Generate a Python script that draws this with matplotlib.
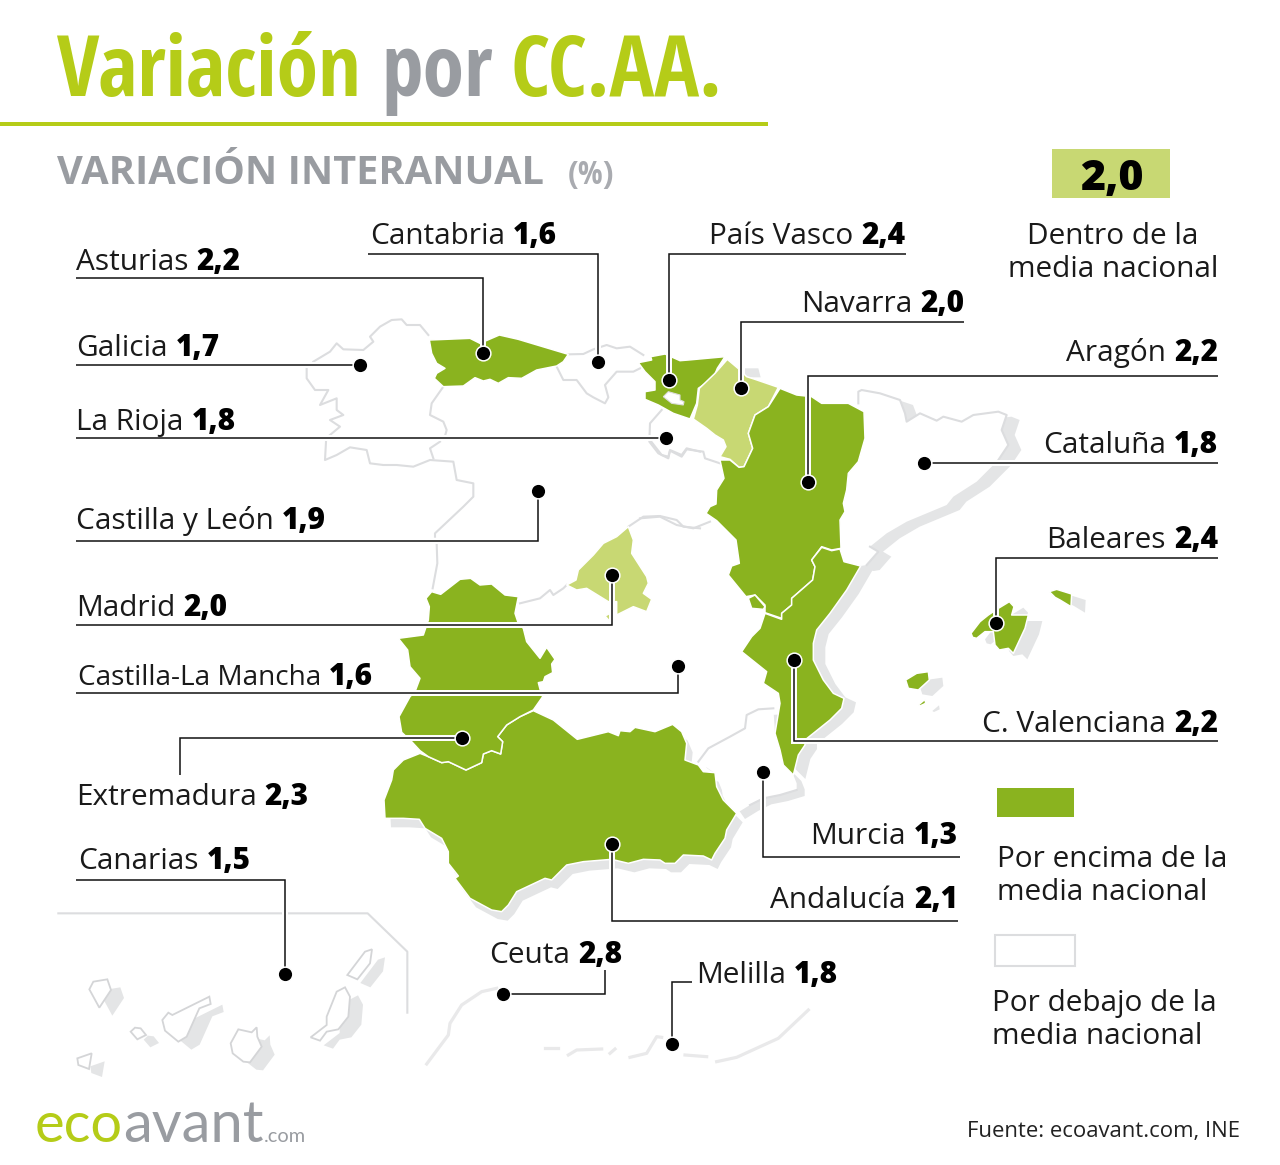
import matplotlib
matplotlib.use("Agg")
import matplotlib.pyplot as plt
from matplotlib.patches import Polygon, Rectangle
from matplotlib import font_manager as fm

# ---------- data ----------
regions = ["Asturias", "Cantabria", "País Vasco", "Navarra", "Aragón", "Cataluña", "Galicia", "La Rioja",
           "Castilla y León", "Madrid", "Castilla-La Mancha", "Extremadura", "Canarias", "Baleares",
           "C. Valenciana", "Murcia", "Andalucía", "Ceuta", "Melilla"]
values = [2.2, 1.6, 2.4, 2.0, 2.2, 1.8, 1.7, 1.8, 1.9, 2.0, 1.6, 2.3, 1.5, 2.4, 2.2, 1.3, 2.1, 2.8, 1.8]
national = 2.0
val = dict(zip(regions, values))

GREEN, LIGHT, TITLE, GREY, EDGE, SHADOW = "#8ab31f", "#c8d873", "#b5cc18", "#999ca1", "#dcdddf", "#e4e5e6"

names = {f.name for f in fm.fontManager.ttflist}
COND = next((n for n in ["Open Sans Condensed", "Liberation Sans Narrow", "Roboto Condensed", "Open Sans"] if n in names))
plt.rcParams["font.family"] = ["Open Sans", "DejaVu Sans"]

fig = plt.figure(figsize=(12.8, 11.65), dpi=100)
ax = fig.add_axes([0, 0, 1, 1])
ax.set_xlim(0, 1280); ax.set_ylim(1165, 0); ax.axis("off")
rend = fig.canvas.get_renderer()


def z(ox, oy, pts):
    return [(ox + x / 3, oy + y / 3) for x, y in pts]


def px(s):
    return s * 0.72


# ---------- geometry (outline tracing) ----------
Z1 = (300, 310); Z2 = (640, 350); Z3 = (370, 570); Z4 = (50, 900); Z5 = (420, 960); Z6 = (630, 340); Z7 = (960, 580)
asturias = z(*Z1, [(388,90),(510,85),(540,100),(598,75),(655,88),(805,133),(790,155),(770,168),(710,180),(665,205),(625,203),(595,220),(570,208),(550,213),(525,203),(490,228),(430,230),(403,205),(410,190),(435,175),(410,160),(395,130)])
pvasco = z(*Z6, [(25,68),(65,60),(62,50),(105,42),(150,62),(175,60),(285,50),(262,85),(250,115),(205,145),(200,190),(180,237),(130,220),(85,195),(45,178),(45,155),(75,150),(75,125),(45,95)])
trevino = z(*Z6, [(100,170),(115,155),(150,165),(150,180),(162,185),(160,195),(125,190)])
navarra = z(*Z2, [(262,28),(225,70),(178,115),(172,165),(160,207),(200,235),(225,255),(250,270),(258,290),(240,320),(270,328),(297,352),(312,350),(338,295),(325,250),(345,195),(385,170),(415,112),(345,88),(320,80),(300,60)])
navarra_shadow = z(*Z6, [(345,85),(385,85),(392,112),(345,112)])
aragon = z(*Z2, [(420,115),(470,135),(515,140),(545,160),(625,160),(672,185),(675,265),(655,335),(625,370),(620,420),(610,460),(615,485),(600,510),(603,595),(575,600),(545,590),(515,630),(525,650),(518,690),(455,745),(455,765),(425,790),(425,805),(375,788),(375,765),(345,735),(318,740),(265,675),(275,648),(298,640),(288,570),(230,512),(198,490),(210,470),(228,462),(230,420),(252,385),(240,330),(270,330),(297,352),(312,350),(338,295),(325,250),(345,195),(385,170)])
ademuz = z(*Z2, [(325,745),(345,735),(375,770),(370,778),(335,775)])
valencia = z(*Z2, [(375,790),(425,808),(425,790),(455,765),(455,745),(518,690),(525,650),(515,630),(545,592),(575,602),(600,597),(612,635),(662,648),(620,720),(570,790),(530,840),(520,880),(520,930),(550,990),(580,1030),(612,1045),(605,1075),(570,1110),(495,1170),(495,1185),(475,1215),(460,1275),(430,1245),(420,1200),(405,1150),(420,1060),(415,1030),(370,1000),(380,965),(305,905),(335,860),(360,835)])
mallorca = z(*Z7, [(33,160),(60,125),(85,105),(115,85),(148,65),(162,80),(155,105),(205,105),(195,145),(160,220),(145,205),(118,210),(105,195),(100,155),(75,155),(50,175),(38,172)])
menorca = z(*Z7, [(268,35),(290,28),(335,42),(333,80),(300,60),(285,52)])
ibiza = z(*Z2, [(797,990),(830,970),(865,965),(868,990),(835,1020),(805,1015)])
formentera = z(*Z2, [(835,1065),(855,1048),(857,1060),(840,1068)])
cataluna = z(*Z2, [(655,125),(665,120),(720,130),(780,150),(795,190),(800,215),(840,190),(890,212),(910,200),(965,215),(1000,195),(1075,185),(1100,195),(1085,240),(1105,285),(1075,330),(1010,395),(940,440),(920,465),(800,515),(740,550),(690,590),(715,605),(680,645),(662,648),(612,635),(600,597),(603,510),(615,485),(610,460),(620,420),(625,370),(655,335),(675,265),(672,185),(655,160)])
murcia = z(*Z2, [(175,1235),(205,1195),(270,1160),(315,1135),(320,1095),(355,1078),(400,1075),(405,1150),(420,1200),(430,1245),(460,1275),(470,1300),(470,1320),(420,1335),(370,1345),(330,1365),(291,1389),(250,1330),(225,1270)])
andalucia = z(*Z3, [(42,690),(65,630),(70,600),(100,570),(150,550),(175,560),(215,578),(235,575),(288,600),(335,578),(340,552),(365,542),(392,552),(398,515),(383,500),(410,465),(450,440),(490,422),(550,450),(622,508),(715,485),(745,497),(750,482),(780,485),(795,472),(855,485),(908,463),(935,485),(950,520),(945,570),(985,585),(1000,605),(1035,608),(1040,650),(1060,690),(1100,730),(1070,780),(1065,805),(1035,850),(1025,870),(1000,858),(940,855),(915,880),(885,880),(870,870),(820,868),(775,880),(725,868),(640,875),(590,885),(545,930),(525,925),(440,965),(415,1005),(395,1025),(365,1020),(300,985),(255,925),(265,918),(235,880),(235,845),(215,805),(165,775),(148,748),(100,745),(45,745)])
extremadura = z(*Z3, [(168,85),(185,65),(212,73),(270,28),(302,25),(330,45),(365,42),(405,75),(445,80),(435,130),(445,160),(460,175),(470,215),(510,265),(530,232),(555,268),(545,282),(548,308),(525,320),(520,335),(505,338),(512,365),(518,380),(490,420),(450,440),(410,465),(383,500),(398,515),(392,552),(365,542),(340,552),(335,578),(288,600),(235,575),(215,578),(175,560),(150,542),(125,515),(95,487),(87,440),(120,380),(135,365),(150,325),(120,290),(113,240),(85,205),(160,195),(175,150),(178,110)])
madrid = z(*Z1, [(985,650),(1000,690),(995,730),(1040,800),(1045,820),(1030,850),(1055,868),(1040,905),(1000,890),(950,915),(950,875),(925,875),(860,835),(830,840),(800,825),(828,810),(835,780),(880,735),(910,700),(950,680)])
madrid2 = z(*Z1, [(915,918),(930,910),(930,935)])

islands = [z(*Z4, p) for p in [
    [(118,268),(130,245),(172,238),(183,270),(148,323)],
    [(337,360),(355,338),(367,345),(478,290),(482,312),(448,325),(410,410),(385,425),(345,392)],
    [(242,395),(255,383),(272,385),(288,405),(262,418)],
    [(82,475),(125,460),(117,507),(85,495)],
    [(565,388),(605,397),(620,382),(622,410),(635,440),(600,487),(580,485),(548,460),(542,430)],
    [(782,412),(830,375),(830,350),(860,275),(885,262),(900,290),(895,350),(865,388),(830,395),(810,422)],
    [(892,225),(945,155),(966,148),(960,190),(922,238)],
]]
borders = [z(*Z1, p) for p in [
    [(770,170),(790,210),(830,210),(860,250),(880,262),(915,280),(925,262),(915,225),(950,185),(1000,185),(1020,175)],
    [(805,133),(850,132),(880,118),(920,105),(950,115),(990,110),(1030,135)],
    [(385,75),(360,45),(320,45),(305,28),(275,30),(240,50),(210,80),(220,95),(190,120),(130,118),(110,100),(90,125),(40,155)],
    [(20,175),(20,205),(45,240),(85,240),(60,285),(110,265),(110,300),(130,315),(90,330),(120,350),(90,375)],
    [(78,395),(75,450),(110,435),(150,412),(200,420),(210,460),(250,465),(290,465),(340,470),(390,450),(460,455),(470,510),(520,520),(520,560),(490,590),(405,670),(405,680)],
    [(430,230),(395,280),(390,315),(430,335),(440,360),(435,378)],
    [(420,395),(390,415),(400,445)],
    [(410,700),(412,760),(398,835)],
    [(660,880),(720,865),(750,840),(760,855),(790,835),(800,825)],
    [(985,650),(1030,620),(1080,618),(1130,630),(1150,650),(1200,655)],
    [(1085,300),(1050,340),(1048,395),(1075,430),(1105,445),(1110,420),(1145,435),(1160,415),(1200,425)],
]] + [z(*Z2, p) for p in [
    [(0,505),(60,500),(110,525),(160,535),(210,515)],
    [(30,270),(65,315),(85,320),(90,302),(125,320),(140,298),(190,305),(195,325),(240,340)],
    [(655,160),(655,125),(665,120),(720,130),(780,150),(795,190),(800,215),(840,190),(890,212),(910,200),(965,215),(1000,195),(1075,185),(1100,195),(1085,240),(1105,285),(1075,330)],
    [(690,590),(715,605),(680,645)],
    [(175,1235),(205,1195),(270,1160),(315,1135),(320,1095),(355,1078),(400,1075)],
    [(470,1320),(420,1335),(370,1345),(330,1365)],
]] + [z(*Z4, [(25,40),(953,40),(1072,155),(1072,338)])]
africa = [z(*Z5, p) for p in [
    [(20,312),(85,225),(90,190),(125,135),(185,95),(230,85)],
    [(375,265),(415,265)], [(445,285),(470,270),(545,267)], [(570,280),(585,267)],
    [(630,292),(680,280),(710,230),(725,232)], [(795,285),(860,290)],
    [(890,305),(950,292),(1075,235),(1165,150)],
]]


def colour(name):
    v = val[name]
    return GREEN if v > national else LIGHT if v == national else "white"


def shift(pts, dx, dy):
    return [(x + dx, y + dy) for x, y in pts]


# shadows
for pts, d in [(cataluna, (13, 5)), (valencia, (12, 4)), (murcia, (8, 6)), (andalucia, (6, 9)),
               (mallorca, (14, 6)), (menorca, (14, 6)), (ibiza, (14, 6)), (formentera, (14, 6)), (navarra_shadow, (0, 0))]:
    ax.add_patch(Polygon(shift(pts, *d), closed=True, fc=SHADOW, ec="none", zorder=1))
for pts in islands:
    ax.add_patch(Polygon(shift(pts, 13, 8), closed=True, fc=SHADOW, ec="none", zorder=1))
    ax.add_patch(Polygon(pts, closed=True, fc="white", ec="#d4d5d7", lw=1.3, zorder=2))
# land cover
for pts in [cataluna, murcia]:
    ax.add_patch(Polygon(pts, closed=True, fc="white", ec="none", zorder=2))
for p in borders:
    ax.plot(*zip(*p), color=EDGE, lw=1.5, zorder=3, solid_joinstyle="round")
for p in africa:
    ax.plot(*zip(*p), color="#e9e9ea", lw=2.3, zorder=3)

# coloured regions
for name, polys in [("Asturias", [asturias]), ("País Vasco", [pvasco]), ("Navarra", [navarra]), ("Aragón", [aragon, ademuz]),
                    ("C. Valenciana", [valencia]), ("Baleares", [mallorca, menorca, ibiza, formentera]),
                    ("Andalucía", [andalucia]), ("Extremadura", [extremadura]), ("Madrid", [madrid, madrid2])]:
    for pts in polys:
        ax.add_patch(Polygon(pts, closed=True, fc=colour(name), ec="white", lw=1.1, zorder=4, joinstyle="round"))
ax.add_patch(Polygon(trevino, closed=True, fc="white", ec="#dddddd", lw=0.8, zorder=5))

# ---------- leaders ----------
leaders = {
    "Asturias": [(76,278),(483,278),(483,353)], "Cantabria": [(368,254),(598,254),(598,362)],
    "País Vasco": [(906,254),(669,254),(669,380)], "Navarra": [(964,322),(741,322),(741,388)],
    "Aragón": [(1218,376),(808,376),(808,482)], "Cataluña": [(1218,463),(924,463)],
    "Galicia": [(76,365),(360,365)], "La Rioja": [(76,438),(666,438)],
    "Castilla y León": [(76,541),(538,541),(538,491)], "Madrid": [(76,625),(612,625),(612,575)],
    "Castilla-La Mancha": [(76,693),(678,693),(678,666)], "Extremadura": [(180,775),(180,738),(462,738)],
    "Canarias": [(76,880),(285,880),(285,974)], "Baleares": [(1218,558),(996,558),(996,623)],
    "C. Valenciana": [(1218,741),(794,741),(794,660)], "Murcia": [(960,857),(763,857),(763,772)],
    "Andalucía": [(958,921),(612,921),(612,844)], "Ceuta": [(605,970),(605,994),(503,994)],
    "Melilla": [(692,982),(672,982),(672,1044)],
}
for name, p in leaders.items():
    xs, ys = zip(*p)
    ax.plot(xs, ys, color="white", lw=4.3, zorder=6, solid_capstyle="butt", solid_joinstyle="miter")
for name, p in leaders.items():
    xs, ys = zip(*p)
    ax.plot(xs, ys, color="#111111", lw=1.1, zorder=7, solid_capstyle="butt", solid_joinstyle="miter")
    ax.plot([xs[-1]], [ys[-1]], "o", ms=10.6, mfc="black", mec="white", mew=1.1, zorder=8)

# ---------- labels ----------
labels = {
    "Asturias": (76,270,"l"), "Cantabria": (370,244,"l"), "País Vasco": (905,244,"r"), "Navarra": (964,312,"r"),
    "Aragón": (1218,361,"r"), "Cataluña": (1218,453,"r"), "Galicia": (76,356,"l"), "La Rioja": (76,430,"l"),
    "Castilla y León": (76,529,"l"), "Madrid": (76,616,"l"), "Castilla-La Mancha": (78,685,"l"),
    "Extremadura": (76,805,"l"), "Canarias": (78,869,"l"), "Baleares": (1218,548,"r"), "C. Valenciana": (1218,732,"r"),
    "Murcia": (958,844,"r"), "Andalucía": (958,908,"r"), "Ceuta": (489,963,"l"), "Melilla": (696,983,"l"),
}
FS = px(29.8)
NAME_FS = {"Castilla-La Mancha": px(28)}


def fmt(v):
    return f"{v:.1f}".replace(".", ",")


def width(t):
    return t.get_window_extent(rend).width


for name, (x, y, al) in labels.items():
    nfs = NAME_FS.get(name, FS)
    if al == "l":
        t = ax.text(x, y, name, fontsize=nfs, color="#1a1a1a", va="baseline", ha="left", zorder=9)
        w = width(t)
        ax.text(x + w + 8, y, fmt(val[name]), fontsize=FS, fontweight="heavy", color="#000000", va="baseline", ha="left", zorder=9)
    else:
        t = ax.text(x, y, fmt(val[name]), fontsize=FS, fontweight="heavy", color="#000000", va="baseline", ha="right", zorder=9)
        w = width(t)
        ax.text(x - w - 8, y, name, fontsize=nfs, color="#1a1a1a", va="baseline", ha="right", zorder=9)

# ---------- title ----------
TS = px(84)
for s, c, x in [("Variación", TITLE, 57), ("por", GREY, 381), ("CC.AA.", TITLE, 511)]:
    ax.text(x, 96, s, fontsize=TS, family=COND, fontweight="bold", color=c, va="baseline", ha="left")
ax.add_patch(Rectangle((0, 122), 768, 3.5, fc=TITLE, ec="none"))
ax.text(57, 184, "VARIACIÓN INTERANUAL", fontsize=px(39.8), fontweight="bold", color=GREY, va="baseline", ha="left")
ax.text(568, 184, "(%)", fontsize=px(33), color="#a9abb0", va="baseline", ha="left", family=COND)

# ---------- legend ----------
ax.add_patch(Rectangle((1052, 149), 118, 49, fc=LIGHT, ec="none"))
ax.text(1112, 190, fmt(national), fontsize=px(43), fontweight="heavy", color="black", ha="center", va="baseline")
for y, s in [(244, "Dentro de la"), (277, "media nacional")]:
    ax.text(1113, y, s, fontsize=FS, color="#1a1a1a", ha="center", va="baseline")
ax.add_patch(Rectangle((997, 788), 77, 29, fc=GREEN, ec="none"))
for y, s in [(867, "Por encima de la"), (900, "media nacional")]:
    ax.text(997, y, s, fontsize=FS, color="#1a1a1a", ha="left", va="baseline")
ax.add_patch(Rectangle((995, 935), 80, 31, fc="white", ec=EDGE, lw=1.5))
for y, s in [(1011, "Por debajo de la"), (1044, "media nacional")]:
    ax.text(992, y, s, fontsize=FS, color="#1a1a1a", ha="left", va="baseline")

# ---------- footer ----------
ax.text(35, 1142, "eco", fontsize=px(56), family="Lato", color=TITLE, va="baseline", ha="left")
ax.text(123, 1142, "avant", fontsize=px(58), family="Lato", color=GREY, va="baseline", ha="left")
ax.text(264, 1142, ".com", fontsize=px(20), family="Lato", color=GREY, va="baseline", ha="left")
ax.text(1240, 1137, "Fuente: ecoavant.com, INE", fontsize=px(22.1), color="#222222", va="baseline", ha="right")

fig.savefig("out.png", dpi=100)
